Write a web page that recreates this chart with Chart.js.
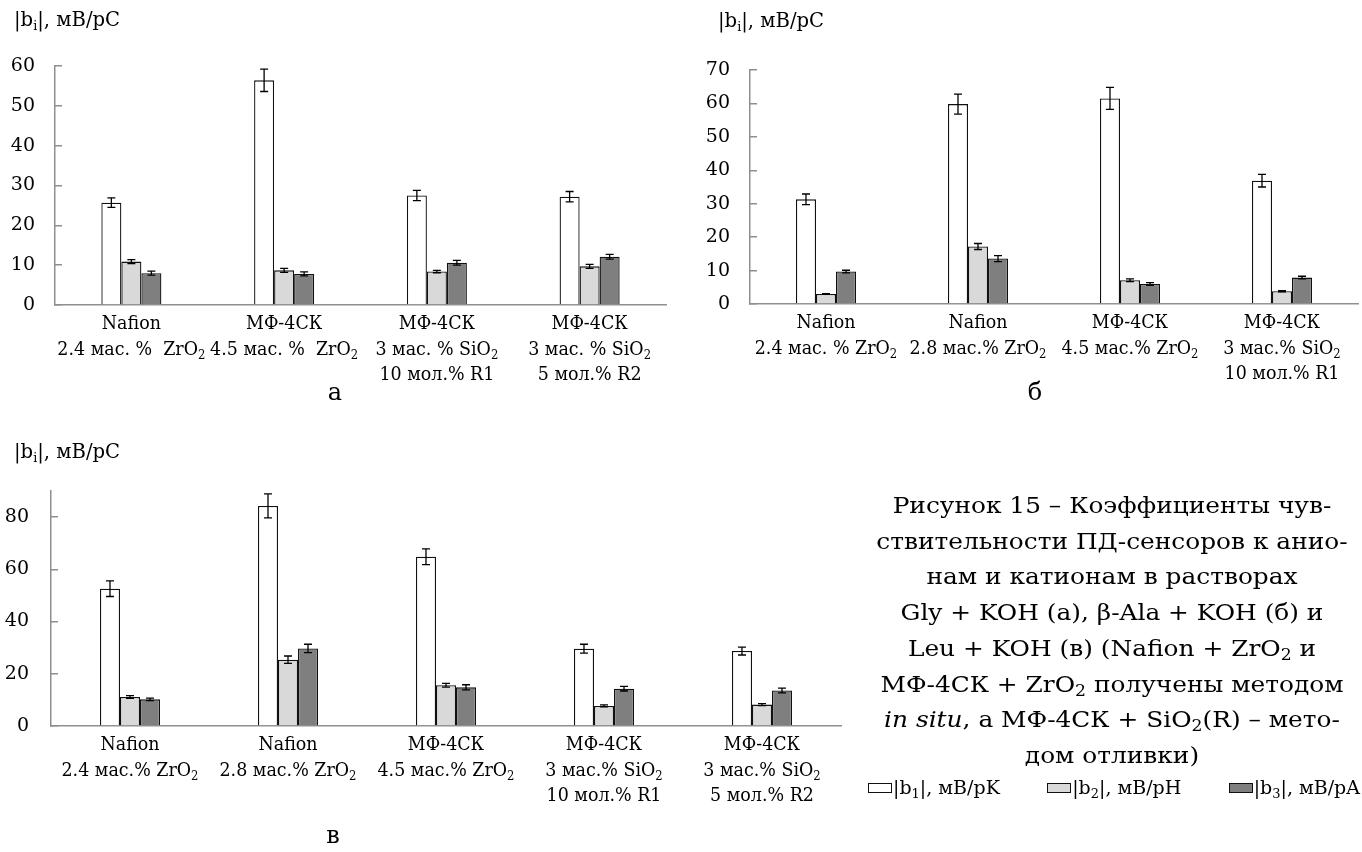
<!DOCTYPE html>
<html>
<head>
<meta charset="utf-8">
<script src="https://cdn.jsdelivr.net/npm/chart.js@4.4.1/dist/chart.umd.min.js"></script>
<style>
  body { margin: 0; background: #fff; width: 1362px; height: 852px; position: relative; overflow: hidden;
         font-family: 'DejaVu Serif', serif; color: #000; }
  canvas { position: absolute; }
  .ttl { position: absolute; font-size: 20px; line-height: 20px; white-space: nowrap;
         transform-origin: 0 0; transform: scaleX(0.98); }
  .ttl sub, #legend sub { font-size: 13px; vertical-align: -4px; line-height: 0; }
  .letter { position: absolute; font-size: 24px; line-height: 24px; width: 40px; text-align: center; }
  #caption { position: absolute; left: 872px; top: 488px; width: 480px; text-align: center;
             font-size: 23px; line-height: 35.7px; white-space: nowrap;
             transform-origin: 50% 0; transform: scaleX(1.08); }
  #caption sub { font-size: 16px; vertical-align: -4px; line-height: 0; }
  #legend { position: absolute; left: 868px; width: 492px; top: 777px; display: flex; align-items: center;
            justify-content: space-between; font-size: 19px; line-height: 21px; white-space: nowrap; }
  .item { display: flex; align-items: center; }
  .sw { width: 22px; height: 8px; border: 1.3px solid #111; margin-right: 1px; }
</style>
</head>
<body>
<canvas id="chA" width="680" height="400" style="left:0;top:0"></canvas>
<canvas id="chB" width="682" height="400" style="left:680px;top:0"></canvas>
<canvas id="chC" width="860" height="432" style="left:0;top:420px"></canvas>

<div class="ttl" style="left:14px;top:9px">|b<sub>i</sub>|, мВ/pC</div>
<div class="ttl" style="left:718px;top:10px">|b<sub>i</sub>|, мВ/pC</div>
<div class="ttl" style="left:14px;top:441px">|b<sub>i</sub>|, мВ/pC</div>

<div class="letter" style="left:315px;top:380px">а</div>
<div class="letter" style="left:1015px;top:380px">б</div>
<div class="letter" style="left:313px;top:823px">в</div>

<div id="caption">Рисунок 15 – Коэффициенты чув-<br>ствительности ПД-сенсоров к анио-<br>нам и катионам в растворах<br>Gly + KOH (а), β-Ala + KOH (б) и<br>Leu + KOH (в) (Nafion + ZrO<sub>2</sub> и<br>МФ-4СК + ZrO<sub>2</sub> получены методом<br><i>in situ</i>, а МФ-4СК + SiO<sub>2</sub>(R) – мето-<br>дом отливки)</div>

<div id="legend">
  <div class="item"><div class="sw" style="background:#fff"></div><span>|b<sub>1</sub>|, мВ/pK</span></div>
  <div class="item"><div class="sw" style="background:#d9d9d9"></div><span>|b<sub>2</sub>|, мВ/pH</span></div>
  <div class="item"><div class="sw" style="background:#7f7f7f"></div><span>|b<sub>3</sub>|, мВ/pA</span></div>
</div>

<script>
// а: Gly + KOH
const catsA = ['Nafion\n2.4 мас. %  ZrO_2', 'МФ-4СК\n4.5 мас. %  ZrO_2',
               'МФ-4СК\n3 мас. % SiO_2\n10 мол.% R1', 'МФ-4СК\n3 мас. % SiO_2\n5 мол.% R2'];
const b1A = [25.7, 56.4, 27.5, 27.2];
const b2A = [10.9, 8.7, 8.4, 9.7];
const b3A = [8.0, 7.8, 10.6, 12.1];
const e1A = [1.2, 2.8, 1.3, 1.3];
const e2A = [0.5, 0.5, 0.3, 0.5];
const e3A = [0.5, 0.5, 0.6, 0.6];

// б: beta-Ala + KOH
const catsB = ['Nafion\n2.4 мас. % ZrO_2', 'Nafion\n2.8 мас.% ZrO_2',
               'МФ-4СК\n4.5 мас.% ZrO_2', 'МФ-4СК\n3 мас.% SiO_2\n10 мол.% R1'];
const b1B = [31.3, 59.8, 61.5, 36.9];
const b2B = [3.0, 17.2, 7.1, 3.8];
const b3B = [9.7, 13.6, 6.0, 7.9];
const e1B = [1.6, 3.0, 3.3, 1.9];
const e2B = [0.1, 0.9, 0.4, 0.2];
const e3B = [0.4, 0.9, 0.4, 0.4];

// в: Leu + KOH
const catsC = ['Nafion\n2.4 мас.% ZrO_2', 'Nafion\n2.8 мас.% ZrO_2', 'МФ-4СК\n4.5 мас.% ZrO_2',
               'МФ-4СК\n3 мас.% SiO_2\n10 мол.% R1', 'МФ-4СК\n3 мас.% SiO_2\n5 мол.% R2'];
const b1C = [52.6, 84.3, 64.8, 29.6, 28.7];
const b2C = [11.1, 25.4, 15.6, 7.7, 8.2];
const b3C = [10.2, 29.7, 14.8, 14.3, 13.6];
const e1C = [3.0, 4.6, 3.0, 1.7, 1.5];
const e2C = [0.5, 1.4, 0.7, 0.4, 0.4];
const e3C = [0.5, 1.6, 1.0, 0.9, 0.9];

const FONT = "'DejaVu Serif', serif";
const SX = 0.97; // DejaVu is wide, squeeze the category labels a little

// one line of label text, "_2" means a subscript 2
function drawRich(ctx, text, cx, y, size) {
  const big = size + 'px ' + FONT;
  const small = Math.round(size * 0.65) + 'px ' + FONT;
  let w = 0;
  const segs = text.split(/(_\S)/).filter(s => s).map(p => {
    const sub = p[0] === '_';
    const t = sub ? p.slice(1) : p;
    ctx.font = sub ? small : big;
    const sw = ctx.measureText(t).width;
    w += sw;
    return { t, sub, sw };
  });
  ctx.save();
  ctx.translate(cx, y);
  ctx.scale(SX, 1);
  ctx.textAlign = 'left';
  ctx.textBaseline = 'alphabetic';
  ctx.fillStyle = '#000';
  let x = -w / 2;
  segs.forEach(s => {
    ctx.font = s.sub ? small : big;
    ctx.fillText(s.t, x, s.sub ? size * 0.25 : 0);
    x += s.sw;
  });
  ctx.restore();
}

const xLabels = {
  id: 'xLabels',
  afterDraw(chart) {
    const xs = chart.scales.x;
    chart.data.labels.forEach((lab, i) => {
      const cx = xs.getPixelForValue(i);
      lab.split('\n').forEach((line, j) => drawRich(chart.ctx, line, cx, xs.top + 24 + j * 25.5, 18));
    });
  }
};

const errorBars = {
  id: 'errorBars',
  afterDatasetsDraw(chart) {
    const ys = chart.scales.y, ctx = chart.ctx;
    ctx.save();
    ctx.strokeStyle = '#000';
    ctx.lineWidth = 1.3;
    chart.data.datasets.forEach((ds, i) => {
      chart.getDatasetMeta(i).data.forEach((bar, j) => {
        const v = ds.data[j], e = ds.errors[j];
        const top = ys.getPixelForValue(v + e), bot = ys.getPixelForValue(v - e);
        ctx.beginPath();
        ctx.moveTo(bar.x, top); ctx.lineTo(bar.x, bot);
        ctx.moveTo(bar.x - 4, top); ctx.lineTo(bar.x + 4, top);
        ctx.moveTo(bar.x - 4, bot); ctx.lineTo(bar.x + 4, bot);
        ctx.stroke();
      });
    });
    ctx.restore();
  }
};

function makeChart(id, cfg) {
  const ds = (label, data, errors, color) => ({
    label, data, errors,
    backgroundColor: color,
    borderColor: '#111',
    borderWidth: 1.3,
    barPercentage: 1.0,
    categoryPercentage: cfg.catPct
  });
  return new Chart(document.getElementById(id), {
    type: 'bar',
    data: {
      labels: cfg.labels,
      datasets: [
        ds('|b1|, мВ/pK', cfg.s1, cfg.e1, '#ffffff'),
        ds('|b2|, мВ/pH', cfg.s2, cfg.e2, '#d9d9d9'),
        ds('|b3|, мВ/pA', cfg.s3, cfg.e3, '#7f7f7f')
      ]
    },
    options: {
      responsive: false,
      animation: false,
      layout: { padding: { left: 0, right: cfg.padRight, top: cfg.padTop, bottom: 0 } },
      plugins: { legend: { display: false }, tooltip: { enabled: false } },
      scales: {
        x: {
          grid: { display: false },
          border: { color: '#8f8f8f', width: 1.5 },
          ticks: { display: false },
          afterFit(scale) { scale.height = cfg.xHeight; }
        },
        y: {
          min: 0,
          max: cfg.yMax,
          grid: { drawOnChartArea: false, drawTicks: true, tickLength: -7, color: '#8f8f8f', lineWidth: 1.5 },
          border: { color: '#8f8f8f', width: 1.5 },
          ticks: {
            stepSize: cfg.yStep,
            includeBounds: false,
            padding: cfg.tickPad,
            color: '#000',
            font: { family: FONT, size: 19 }
          },
          afterFit(scale) { scale.width = cfg.yWidth; }
        }
      }
    },
    plugins: [errorBars, xLabels]
  });
}

makeChart('chA', { labels: catsA, s1: b1A, s2: b2A, s3: b3A, e1: e1A, e2: e2A, e3: e3A,
  yMax: 60, yStep: 10, yWidth: 55, xHeight: 95, padTop: 66, padRight: 14, catPct: 0.393, tickPad: 27 });
makeChart('chB', { labels: catsB, s1: b1B, s2: b2B, s3: b3B, e1: e1B, e2: e2B, e3: e3B,
  yMax: 70, yStep: 10, yWidth: 70, xHeight: 96, padTop: 70, padRight: 4, catPct: 0.395, tickPad: 27 });
makeChart('chC', { labels: catsC, s1: b1C, s2: b2C, s3: b3C, e1: e1C, e2: e2C, e3: e3C,
  yMax: 90, yStep: 20, yWidth: 51, xHeight: 126, padTop: 71, padRight: 19, catPct: 0.38, tickPad: 29 });
</script>
</body>
</html>
